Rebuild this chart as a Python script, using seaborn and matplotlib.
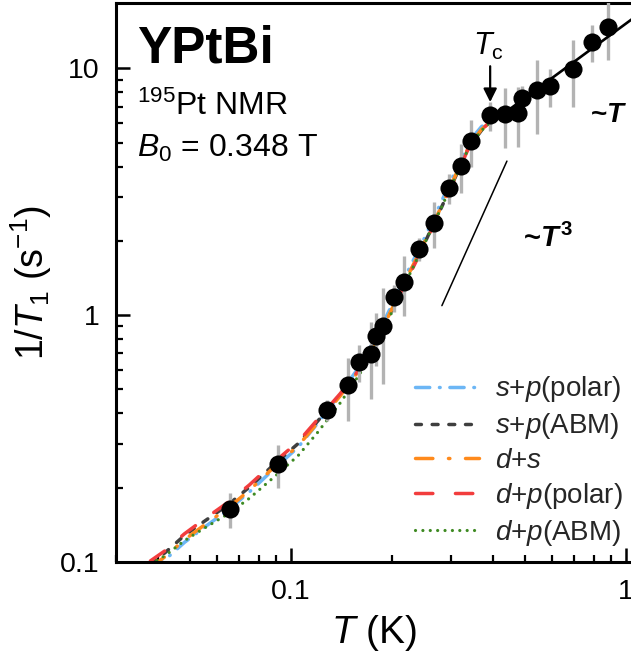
import numpy as np
import pandas as pd
import matplotlib
matplotlib.use("Agg")
import matplotlib.pyplot as plt
from matplotlib.ticker import LogLocator, FuncFormatter, NullFormatter
import seaborn as sns

# ---- measured 1/T1 of 195Pt in YPtBi ----
T_data = [0.0657, 0.0916, 0.128, 0.148, 0.159, 0.173, 0.1795, 0.188, 0.203, 0.2175,
          0.2415, 0.2667, 0.297, 0.321, 0.3445, 0.393, 0.4355, 0.477, 0.488, 0.541,
          0.593, 0.693, 0.790, 0.885]
R_data = [0.164, 0.249, 0.414, 0.522, 0.647, 0.696, 0.82, 0.906, 1.181, 1.367,
          1.856, 2.366, 3.27, 4.03, 5.10, 6.45, 6.55, 6.61, 7.60, 8.14,
          8.45, 9.97, 12.79, 14.71]
R_err = [0.027, 0.05, 0.04, 0.15, 0.11, 0.24, 0.2, 0.38, 0.15, 0.37,
         0.2, 0.5, 0.45, 0.9, 1.1, 0.85, 1.8, 1.8, 0.9, 2.7,
         1.5, 3.0, 2.2, 3.9]

# ---- gap-model fits below Tc ----
T_fit = [0.038, 0.042, 0.048, 0.055, 0.065, 0.075, 0.09, 0.105, 0.12, 0.14,
         0.16, 0.18, 0.20, 0.22, 0.25, 0.28, 0.31, 0.34, 0.37, 0.39]
R_sp_polar = [0.093, 0.102, 0.120, 0.138, 0.163, 0.192, 0.242, 0.292, 0.365, 0.48,
              0.62, 0.82, 1.10, 1.45, 2.05, 2.85, 3.85, 5.05, 5.8, 6.1]
R_sp_abm = [0.099, 0.109, 0.128, 0.146, 0.171, 0.201, 0.252, 0.302, 0.372, 0.475,
            0.60, 0.78, 1.05, 1.38, 1.95, 2.70, 3.65, 4.8, 5.6, 5.95]
R_ds = [0.095, 0.105, 0.123, 0.141, 0.166, 0.195, 0.246, 0.296, 0.366, 0.47,
        0.60, 0.785, 1.06, 1.39, 1.97, 2.73, 3.7, 4.85, 5.65, 6.0]
R_dp_polar = [0.101, 0.111, 0.130, 0.149, 0.175, 0.205, 0.257, 0.307, 0.378, 0.48,
              0.605, 0.78, 1.04, 1.36, 1.93, 2.68, 3.63, 4.8, 5.65, 6.0]
R_dp_abm = [0.098, 0.106, 0.122, 0.137, 0.157, 0.181, 0.224, 0.270, 0.335, 0.44,
            0.575, 0.76, 1.03, 1.36, 1.94, 2.70, 3.65, 4.8, 5.6, 5.95]

# ---- power-law guides ----
T_lin = [0.45, 1.04]
R_lin = [6.84, 15.8]
T_cube = [0.282, 0.441]
R_cube = [1.093, 4.21]
Tc = 0.393

sns.set_theme(style="ticks")
plt.rcParams["font.family"] = ["Liberation Sans", "DejaVu Sans"]
plt.rcParams["mathtext.fontset"] = "custom"
plt.rcParams["mathtext.rm"] = "Liberation Sans"
plt.rcParams["mathtext.it"] = "Liberation Sans:italic"
plt.rcParams["mathtext.bf"] = "Liberation Sans:bold"
plt.rcParams["mathtext.bfit"] = "Liberation Sans:italic:bold"

fig = plt.figure(figsize=(6.31, 6.61), dpi=100)
ax = fig.add_axes([116 / 631, 1 - 562 / 661, 1 - 116 / 631, 559 / 661])
ax.set_xscale("log")
ax.set_yscale("log")

fits = [
    (r"$s$+$p$(polar)", R_sp_polar, "#6cb6f5", (0, (4.1, 2.8, 0.2, 2.8)), 2.5),
    (r"$s$+$p$(ABM)", R_sp_abm, "#3f3f3f", (0, (1.7, 3.1)), 2.5),
    (r"$d$+$s$", R_ds, "#ff8a1c", (0, (5, 4.5, 0.4, 4.5)), 2.5),
    (r"$d$+$p$(polar)", R_dp_polar, "#f23d3d", (0, (5, 6.5)), 2.5),
    (r"$d$+$p$(ABM)", R_dp_abm, "#3e8a22", (0, (0.01, 2.3)), 2.3),
]
for label, vals, color, ls, lw in fits:
    sns.lineplot(x=T_fit, y=vals, ax=ax, color=color, linestyle=ls, linewidth=lw,
                 label=label, sort=False, estimator=None, zorder=2,
                 dash_capstyle="round", solid_capstyle="round")

ax.errorbar(T_data, R_data, yerr=R_err, fmt="none", ecolor="#b3b3b3",
            elinewidth=2.4, capsize=0, zorder=3)
pts = pd.DataFrame({"T": T_data, "R": R_data})
sns.scatterplot(data=pts, x="T", y="R", ax=ax, color="black", s=170,
                edgecolor="black", linewidth=0, zorder=4, legend=False)

sns.lineplot(x=T_lin, y=R_lin, ax=ax, color="black", linewidth=1.9, zorder=3,
             sort=False, estimator=None)
sns.lineplot(x=T_cube, y=R_cube, ax=ax, color="black", linewidth=1.1, zorder=3,
             sort=False, estimator=None)

ax.set_xlim(0.030, 1.035)
ax.set_ylim(0.1, 18.4)

fmt = FuncFormatter(lambda v, p: f"{v:g}")
for axis in (ax.xaxis, ax.yaxis):
    axis.set_major_locator(LogLocator(base=10))
    axis.set_minor_locator(LogLocator(base=10, subs=np.arange(2, 10)))
    axis.set_major_formatter(fmt)
    axis.set_minor_formatter(NullFormatter())

ax.tick_params(which="major", direction="in", length=10, width=1.8,
               labelsize=20.5, pad=12, color="black", labelcolor="black")
ax.tick_params(which="minor", direction="in", length=5, width=1.6, color="black")
ax.tick_params(top=False, right=False, which="both")
for side in ("left", "bottom", "top"):
    ax.spines[side].set_linewidth(2.2)
    ax.spines[side].set_color("black")
ax.spines["right"].set_visible(False)

ax.set_xlabel(r"$T$ (K)", fontsize=28, labelpad=6, color="black")
ax.set_ylabel(r"1/$T_1$ (s$^{-1}$)", fontsize=27, labelpad=4, color="black")

ax.text(0.041, 0.893, "YPtBi", transform=ax.transAxes, fontsize=37,
        fontweight="bold", color="black", va="baseline")
ax.text(0.041, 0.800, r"$^{195}$Pt NMR", transform=ax.transAxes, fontsize=23,
        color="black", va="baseline")
ax.text(0.041, 0.7245, r"$B_0$ = 0.348 T", transform=ax.transAxes, fontsize=23,
        color="black", va="baseline")

ax.annotate("", xy=(Tc, 7.3), xytext=(Tc, 10.2),
            arrowprops=dict(arrowstyle="-|>", color="black", lw=1.6,
                            mutation_scale=20, shrinkA=0, shrinkB=0))
ax.text(0.387, 11.3, r"$T_\mathrm{c}$", fontsize=22, ha="center", va="baseline",
        color="black")

ax.text(0.781, 6.06, r"~$\mathbfit{T}$", fontsize=20, fontweight="bold",
        ha="left", va="baseline", color="black")
ax.text(0.4927, 1.884, r"~$\mathbfit{T}^{\,\mathbf{3}}$", fontsize=21,
        fontweight="bold", ha="left", va="baseline", color="black")

ax.legend(loc="lower right", bbox_to_anchor=(1.01, 0.0), frameon=False,
          fontsize=20, handlelength=2.3, handletextpad=0.55, labelspacing=0.25,
          borderpad=0.3, borderaxespad=0.2)

fig.savefig("out.png", dpi=100)
